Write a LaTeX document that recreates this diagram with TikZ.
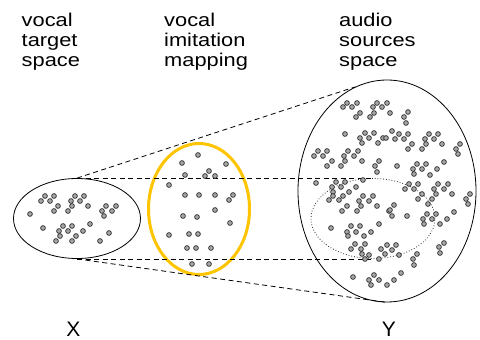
\documentclass[tikz,border=0pt]{standalone}
\usepackage{fontspec}
\setmainfont{Liberation Sans}
\newfontfamily\widesans[FakeStretch=1.18]{Liberation Sans}
\usepackage{tikz}
\usetikzlibrary{shapes.geometric}

\begin{document}
\begin{tikzpicture}[x=1pt, y=-1pt,
    space/.style={ellipse, draw, line width=0.8pt, inner sep=0pt},
    sample/.style={circle, draw=black!80, fill=black!35, line width=0.75pt, inner sep=0pt, minimum size=4.8pt},
    link/.style={dash pattern=on 5pt off 3.5pt, line width=0.8pt},
    caption/.style={anchor=north west, align=left, inner sep=0pt, font=\widesans\fontsize{18.5}{20}\selectfont},
    axis/.style={inner sep=0pt, font=\fontsize{21}{21}\selectfont}]
    \useasboundingbox (0,0) rectangle (480,340);
    \node[caption] (xlab) at (21.5,12.7) {vocal\\target\\space};
    \node[caption] (mlab) at (164,12.7) {vocal\\imitation\\mapping};
    \node[caption] (ylab) at (339,12.7) {audio\\sources\\space};
    \node[space, minimum width=127pt, minimum height=80pt] (X) at (77,218.5) {};
    \node[space, minimum width=178pt, minimum height=222pt] (Y) at (387,191) {};
    \node[ellipse, draw=black!85, dotted, line width=0.8pt, inner sep=0pt, minimum width=124pt, minimum height=80pt] (Yin) at (373,218.5) {};
    \node[ellipse, draw={rgb,255:red,255;green,196;blue,0}, line width=3pt, inner sep=0pt, minimum width=101pt, minimum height=131pt] (M) at (199,209) {};
    \draw[link] (X.north) -- (Yin.north);
    \draw[link] (X.south) -- (Yin.south);
    \draw[link] (X.north) -- (Y.107);
    \draw[link] (X.south) -- (Y.south);
    \foreach \x/\y [count=\i] in {45/196, 54/196, 41/201, 50/201, 58/206, 54/211, 75/196, 84/196, 71/201, 80/201, 72/206, 68/211, 88/206, 30/214,
        43/228, 63/226, 72/226, 59/231, 68/231, 60/236, 56/241, 76/236, 72/241, 83/231, 90/224, 106/206, 116/206, 102/211, 112/211, 104/216, 109/233, 100/241}
        \node[sample] (xs\i) at (\x,\y) {};
    \foreach \x/\y [count=\i] in {198/155, 182/163, 226/164, 209/171, 185/175, 205/176, 215/176, 169/185, 185/195, 199/195, 215/195, 233/195, 229/200,
        215/210, 183/216, 197/217, 230/223, 169/235, 189/234, 198/234, 187/248, 196/248, 211/248, 192/264, 209/264}
        \node[sample] (ms\i) at (\x,\y) {};
    \foreach \x/\y [count=\i] in {343/107, 347/103, 352/107, 357/103, 360/113, 356/117, 373/107, 377/103, 382/107, 387/103, 374/113, 370/117,
        345/134, 365/133, 374/133, 360/138, 369/138, 362/143, 383/138, 378/143,
        318/151, 327/151, 314/156, 323/156, 332/161, 327/166, 348/151, 358/151, 344/156, 354/156, 345/161, 341/166, 362/161, 379/161, 375/166,
        390/113, 408/112, 404/117, 406/123, 392/131, 399/134, 408/134, 386/138, 395/139, 404/139, 412/144, 408/149,
        429/134, 438/134, 425/139, 434/139, 426/144, 422/149, 442/144, 460/144, 456/149, 458/154, 444/162,
        397/166, 417/164, 426/164, 413/169, 422/169, 437/169, 377/172,
        316/183, 336/182, 345/182, 332/187, 341/187, 333/192, 333/196, 339/200, 343/196, 349/192, 356/187, 363/180, 329/200,
        363/196, 373/196, 359/201, 369/201, 361/206, 347/206, 342/211, 357/211, 377/206, 389/211,
        331/228, 351/226, 360/226, 347/232, 356/232, 379/224, 371/232,
        414/174, 430/175, 409/184, 405/189, 414/189, 418/184, 422/194, 418/199, 438/184, 448/184, 434/189, 444/189, 436/194, 432/199,
        452/194, 428/204, 470/194, 466/199, 468/204, 394/205, 390/210, 392/216, 407/216, 427/214, 436/214, 423/219, 432/219, 424/224,
        447/219, 454/212, 440/224,
        348/236, 364/236, 355/244, 365/244, 351/249, 361/249, 362/254, 369/255, 365/259, 379/259, 381/249, 385/254,
        353/277, 369/280, 374/275, 379/280, 371/285, 387/285,
        387/245, 396/245, 392/250, 399/255, 417/254, 413/259, 414/265, 439/247, 444/243, 440/253, 401/273, 394/280}
        \node[sample] (ys\i) at (\x,\y) {};
    \node[axis] (xname) at (73.5,329.5) {X};
    \node[axis] (yname) at (389,329.5) {Y};
\end{tikzpicture}
\end{document}
